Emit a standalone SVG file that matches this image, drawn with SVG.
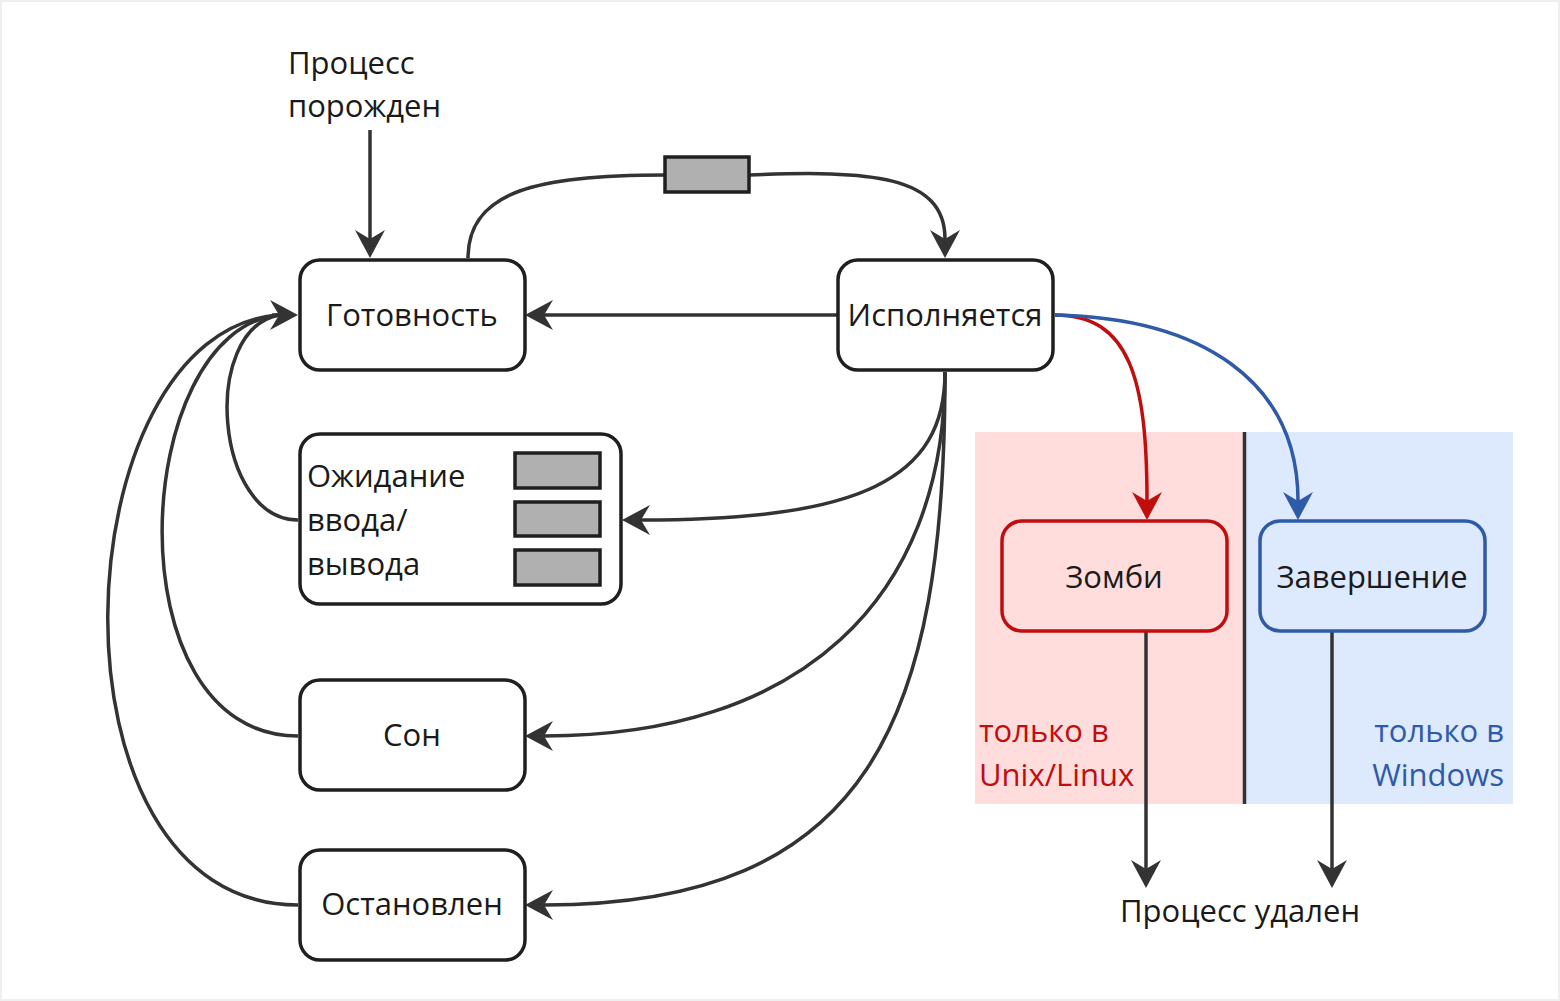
<svg xmlns="http://www.w3.org/2000/svg" width="1560" height="1001" viewBox="0 0 1560 1001">
<style>
.node{fill:#ffffff;stroke:#1f1f1f;stroke-width:3.5}
.q{fill:#b0b0b0;stroke:#1f1f1f;stroke-width:3.5}
.t{font-family:"Open Sans","Noto Sans",sans-serif;font-size:31px;fill:#1a1a1a}
.c{text-anchor:middle}
.e{fill:none;stroke:#333333;stroke-width:3.5}
.er{fill:none;stroke:#c00d0d;stroke-width:3.5}
.eb{fill:none;stroke:#2f5aa8;stroke-width:3.5}
</style>
<defs>
<marker id="ah" markerUnits="userSpaceOnUse" markerWidth="30" markerHeight="32" refX="9" refY="15" orient="auto" overflow="visible">
<path d="M28,15 L0,0 L9,15 L0,30 Z" fill="#333333"/>
</marker>
<marker id="ahr" markerUnits="userSpaceOnUse" markerWidth="30" markerHeight="32" refX="9" refY="15" orient="auto" overflow="visible">
<path d="M28,15 L0,0 L9,15 L0,30 Z" fill="#c00d0d"/>
</marker>
<marker id="ahb" markerUnits="userSpaceOnUse" markerWidth="30" markerHeight="32" refX="9" refY="15" orient="auto" overflow="visible">
<path d="M28,15 L0,0 L9,15 L0,30 Z" fill="#2f5aa8"/>
</marker>
</defs>
<rect x="0" y="0" width="1560" height="1001" fill="#ffffff"/>
<rect x="1" y="1" width="1558" height="999" fill="none" stroke="#efefef" stroke-width="2"/>

<g id="regions">
<rect x="975" y="432" width="268" height="372" fill="#ffdddd"/>
<rect x="1246" y="432" width="267" height="372" fill="#dde9fd"/>
<line x1="1244.5" y1="432" x2="1244.5" y2="804" stroke="#333333" stroke-width="3.5"/>
<text class="t" x="979" y="742" style="fill:#c00d0d">только в</text>
<text class="t" x="979" y="786" style="fill:#c00d0d">Unix/Linux</text>
<text class="t" x="1504" y="742" text-anchor="end" style="fill:#2f5aa8">только в</text>
<text class="t" x="1504" y="786" text-anchor="end" style="fill:#2f5aa8">Windows</text>
</g>

<g id="connectors">
<path class="e" d="M370,130 L370,239" marker-end="url(#ah)"/>
<path class="e" d="M468,258 C468,190 540,175 665,175"/>
<path class="e" d="M749,175 C870,170 945,175 945,239" marker-end="url(#ah)"/>
<path class="e" d="M838,315 L544,315" marker-end="url(#ah)"/>
<path class="e" d="M945,372 C945,480 860,520 641,520" marker-end="url(#ah)"/>
<path class="e" d="M945,372 C945,600 800,736 544,736" marker-end="url(#ah)"/>
<path class="e" d="M945,372 C945,720 870,905 544,905" marker-end="url(#ah)"/>
<path class="e" d="M298,520 C215,520 200,330 279,315"/>
<path class="e" d="M298,736 C110,736 130,330 279,315"/>
<path class="e" d="M298,905 C35,905 60,330 279,315"/>
<path class="e" d="M272,315 L279,315" marker-end="url(#ah)"/>
<path class="er" d="M1055,315 C1130,315 1147,380 1147,501" marker-end="url(#ahr)"/>
<path class="eb" d="M1055,315 C1200,318 1298,380 1298,501" marker-end="url(#ahb)"/>
<path class="e" d="M1146,632 L1146,869" marker-end="url(#ah)"/>
<path class="e" d="M1332,632 L1332,869" marker-end="url(#ah)"/>
</g>

<g id="queue-top"><rect class="q" x="665" y="157" width="84" height="35"/></g>

<g id="start-label">
<text class="t" x="288" y="74">Процесс</text>
<text class="t" x="288" y="117">порожден</text>
</g>

<g id="ready"><rect class="node" x="300" y="260" width="225" height="110" rx="20"/><text class="t c" x="412" y="326">Готовность</text></g>
<g id="running"><rect class="node" x="838" y="260" width="215" height="110" rx="20"/><text class="t c" x="945" y="326">Исполняется</text></g>
<g id="io-wait">
<rect class="node" x="300" y="434" width="321" height="170" rx="20"/>
<text class="t" x="307" y="487">Ожидание</text>
<text class="t" x="307" y="531">ввода/</text>
<text class="t" x="307" y="575">вывода</text>
<rect class="q" x="515" y="453" width="85" height="35"/>
<rect class="q" x="515" y="502" width="85" height="34"/>
<rect class="q" x="515" y="550" width="85" height="35"/>
</g>
<g id="sleep"><rect class="node" x="300" y="680" width="225" height="110" rx="20"/><text class="t c" x="412" y="746">Сон</text></g>
<g id="stopped"><rect class="node" x="300" y="850" width="225" height="110" rx="20"/><text class="t c" x="412" y="915">Остановлен</text></g>
<g id="zombie"><rect x="1002" y="521" width="225" height="110" rx="20" fill="#ffdddd" stroke="#c00d0d" stroke-width="3.5"/><text class="t c" x="1114" y="588">Зомби</text></g>
<g id="terminated"><rect x="1260" y="521" width="225" height="110" rx="20" fill="#dde9fd" stroke="#2f5aa8" stroke-width="3.5"/><text class="t c" x="1372" y="588">Завершение</text></g>
<g id="end-label"><text class="t c" x="1240" y="922">Процесс удален</text></g>
</svg>
